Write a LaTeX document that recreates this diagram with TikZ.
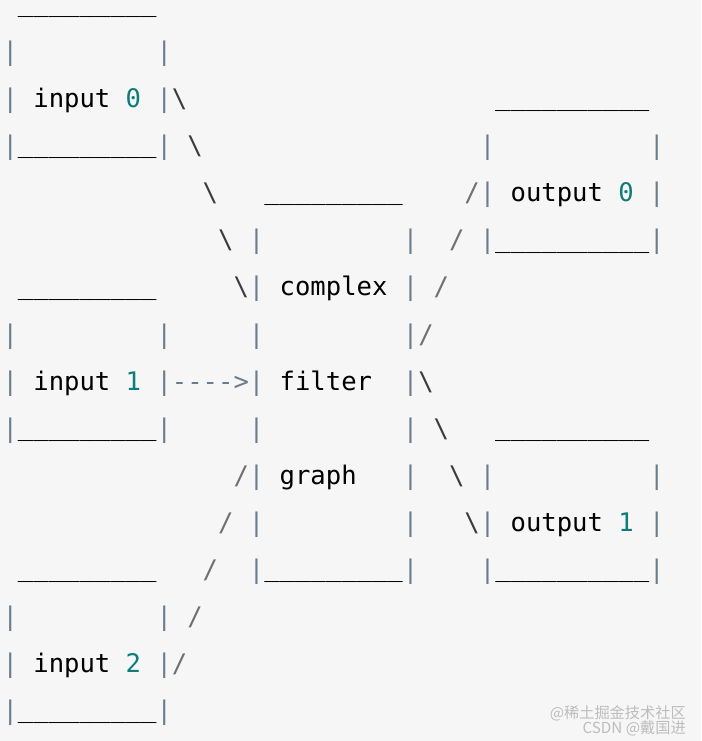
\documentclass[tikz,border=0pt]{standalone}
\usepackage{fontspec}
\setmonofont{DejaVu Sans Mono}
\newfontfamily\cjkwm{Noto Sans CJK SC}
\usepackage{tikz}

\definecolor{bgc}{HTML}{F6F6F6}
\definecolor{pipec}{HTML}{6B7D8C}
\definecolor{bslc}{HTML}{3C3C3C}
\definecolor{slc}{HTML}{707070}
\definecolor{numc}{HTML}{0E7C7B}
\definecolor{wmc}{HTML}{BDBDBD}

% one character cell of the code font (0.602 em)
\newlength\colw
\setlength\colw{11.547pt}
\newcommand\codefont{\ttfamily\fontsize{19.18}{23}\selectfont}
\newcommand\gap[1]{\hspace*{#1\colw}}
\newcommand\pp{\textcolor{pipec}{|}}
\newcommand\bk{\textcolor{bslc}{\textbackslash}}
\newcommand\fw{\textcolor{slc}{/}}
\newcommand\dg[1]{\textcolor{numc}{#1}}
\newcommand\unine{\raisebox{1.5pt}{\_\_\_\_\_\_\_\_\_}}
\newcommand\uten{\raisebox{1.5pt}{\_\_\_\_\_\_\_\_\_\_}}
\newcommand\arr{\textcolor{pipec}{-\kern0pt-\kern0pt-\kern0pt-\kern0pt>}}

\begin{document}
\begin{tikzpicture}[x=0.75pt,y=-0.75pt,
  ascii/.style={anchor=base west,inner sep=0pt,font=\codefont},
  wmark/.style={anchor=base east,inner sep=0pt,text=wmc,font=\cjkwm\fontsize{11.4}{13}\selectfont}]
  \fill[bgc] (0,0) rectangle (701,741);
  % the three inputs and the filter box, one text line each
  \node[ascii] (row1)  at (2.3,14)  {\gap{1}\unine};
  \node[ascii] (row2)  at (2.3,61)  {\pp\gap{9}\pp};
  \node[ascii] (row3)  at (2.3,108) {\pp\gap{1}input\gap{1}\dg{0}\gap{1}\pp\bk\gap{20}\uten};
  \node[ascii] (row4)  at (2.3,155) {\pp\unine\pp\gap{1}\bk\gap{18}\pp\gap{10}\pp};
  \node[ascii] (row5)  at (2.3,202) {\gap{13}\bk\gap{3}\unine\gap{4}\fw\pp\gap{1}output\gap{1}\dg{0}\gap{1}\pp};
  \node[ascii] (row6)  at (2.3,249) {\gap{14}\bk\gap{1}\pp\gap{9}\pp\gap{2}\fw\gap{1}\pp\uten\pp};
  \node[ascii] (row7)  at (2.3,296) {\gap{1}\unine\gap{5}\bk\pp\gap{1}complex\gap{1}\pp\gap{1}\fw};
  \node[ascii] (row8)  at (2.3,343) {\pp\gap{9}\pp\gap{5}\pp\gap{9}\pp\fw};
  \node[ascii] (row9)  at (2.3,390) {\pp\gap{1}input\gap{1}\dg{1}\gap{1}\pp\arr\pp\gap{1}filter\gap{2}\pp\bk};
  \node[ascii] (row10) at (2.3,437) {\pp\unine\pp\gap{5}\pp\gap{9}\pp\gap{1}\bk\gap{3}\uten};
  \node[ascii] (row11) at (2.3,484) {\gap{15}\fw\pp\gap{1}graph\gap{3}\pp\gap{2}\bk\gap{1}\pp\gap{10}\pp};
  \node[ascii] (row12) at (2.3,531) {\gap{14}\fw\gap{1}\pp\gap{9}\pp\gap{3}\bk\pp\gap{1}output\gap{1}\dg{1}\gap{1}\pp};
  \node[ascii] (row13) at (2.3,578) {\gap{1}\unine\gap{3}\fw\gap{2}\pp\unine\pp\gap{4}\pp\uten\pp};
  \node[ascii] (row14) at (2.3,625) {\pp\gap{9}\pp\gap{1}\fw};
  \node[ascii] (row15) at (2.3,672) {\pp\gap{1}input\gap{1}\dg{2}\gap{1}\pp\fw};
  \node[ascii] (row16) at (2.3,719) {\pp\unine\pp};
  % watermark
  \node[wmark] (wm1) at (686,718) {@稀土掘金技术社区};
  \node[wmark] (wm2) at (686,733) {CSDN @戴国进};
\end{tikzpicture}
\end{document}
